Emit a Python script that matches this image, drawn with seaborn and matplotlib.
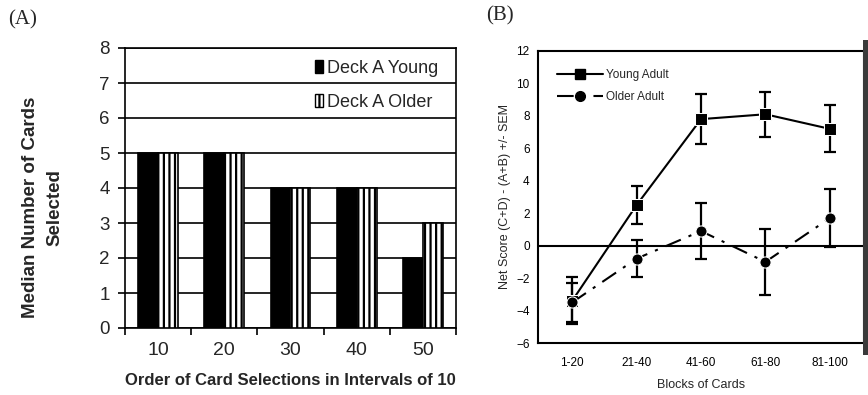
import numpy as np
import pandas as pd
import matplotlib
matplotlib.use("Agg")
import matplotlib.pyplot as plt
import seaborn as sns
from matplotlib.patches import Patch, Rectangle
from matplotlib.lines import Line2D

# ---- data: panel A ----
intervals = ["10", "20", "30", "40", "50"]
young_median = [5, 5, 4, 4, 2]
older_median = [5, 5, 4, 4, 3]
groups_a = ["Deck A Young", "Deck A Older"]

# ---- data: panel B ----
blocks = ["1-20", "21-40", "41-60", "61-80", "81-100"]
young_net = [-3.4, 2.5, 7.8, 8.1, 7.2]
young_sem = [1.45, 1.15, 1.55, 1.4, 1.45]
older_net = [-3.5, -0.8, 0.9, -1.0, 1.7]
older_sem = [1.2, 1.15, 1.75, 2.05, 1.8]
groups_b = ["Young Adult", "Older Adult"]

sns.set_theme(style="white")
plt.rcParams["font.family"] = ["Liberation Sans", "DejaVu Sans"]
plt.rcParams["hatch.linewidth"] = 1.6
plt.rcParams["hatch.color"] = "black"

fig = plt.figure(figsize=(8.68, 3.95), dpi=100)
axA = fig.add_axes([125/868, 1-328/395, 331/868, 280/395])
axB = fig.add_axes([538/868, 1-343/395, 326/868, 292/395])

# ---------- Panel A ----------
dfA = pd.DataFrame({
    "interval": intervals * 2,
    "median": young_median + older_median,
    "group": [groups_a[0]] * len(intervals) + [groups_a[1]] * len(intervals),
})
sns.barplot(data=dfA, x="interval", y="median", hue="group", order=intervals,
            hue_order=groups_a, palette=["black", "white"], width=0.6,
            edgecolor="black", linewidth=1.2, ax=axA, legend=False, zorder=3)
n = len(intervals)
for i, p in enumerate(axA.patches[:2 * n]):
    if i >= n:
        p.set_hatch("|||")
axA.set_ylim(0, 8)
axA.set_xlim(-0.5, n - 0.5)
axA.set_yticks(range(0, 9))
axA.yaxis.grid(True, color="black", linewidth=1.2, zorder=0)
axA.set_axisbelow(True)
for s in axA.spines.values():
    s.set_color("black")
    s.set_linewidth(1.2)
axA.set_xticks(np.arange(-0.5, n, 1.0), minor=True)
axA.tick_params(axis="x", which="minor", length=5, width=1.2, color="black", direction="out", bottom=True)
axA.tick_params(axis="x", which="major", length=0, labelsize=14, pad=10)
axA.tick_params(axis="y", which="major", length=5, width=1.2, color="black", direction="out", left=True, labelsize=13.5, pad=6)
axA.set_xlabel("Order of Card Selections in Intervals of 10", fontsize=12, fontweight="bold", labelpad=10)
axA.set_ylabel("Median Number of Cards\nSelected", fontsize=13.5, fontweight="bold",
               linespacing=1.6, va="center")
axA.yaxis.set_label_coords(-0.248, 0.43)
handlesA = [Patch(facecolor="black", edgecolor="black", label=groups_a[0]),
            Patch(facecolor="white", edgecolor="black", hatch="|||", label=groups_a[1])]
legA = axA.legend(handles=handlesA, loc="upper right", bbox_to_anchor=(0.982, 1.0), frameon=False,
                  fontsize=13, handlelength=0.45, handleheight=0.7, handletextpad=0.2,
                  labelspacing=0.95, borderaxespad=0.25)

# ---------- Panel B ----------
dfB = pd.DataFrame({
    "block": blocks * 2,
    "score": young_net + older_net,
    "sem": young_sem + older_sem,
    "group": [groups_b[0]] * len(blocks) + [groups_b[1]] * len(blocks),
})
xpos = np.arange(len(blocks))
dfB["x"] = np.tile(xpos, 2)
axB.axhline(0, color="black", linewidth=1.5, zorder=1)
sns.lineplot(data=dfB, x="x", y="score", hue="group", style="group",
             hue_order=groups_b, style_order=groups_b,
             palette=["black", "black"], markers={groups_b[0]: "s", groups_b[1]: "o"},
             dashes={groups_b[0]: "", groups_b[1]: (8, 4, 1.5, 4)},
             markersize=8, linewidth=1.5, ax=axB, legend=False, zorder=3)
for g in groups_b:
    sub = dfB[dfB.group == g]
    axB.errorbar(sub["x"], sub["score"], yerr=sub["sem"], fmt="none",
                 ecolor="black", elinewidth=1.6, capsize=4, capthick=1.6, zorder=2)
axB.set_xlim(-0.53, len(blocks) - 0.47)
axB.set_ylim(-6, 12)
axB.set_yticks(range(-6, 13, 2))
axB.set_xticks(xpos)
axB.set_xticklabels(blocks)
for s in axB.spines.values():
    s.set_color("black")
    s.set_linewidth(1.5)
axB.tick_params(axis="both", length=0, labelsize=8.5, colors="black")
axB.tick_params(axis="y", pad=6)
axB.tick_params(axis="x", pad=10)
axB.set_xlabel("Blocks of Cards", fontsize=9, labelpad=7)
axB.set_ylabel("Net Score (C+D) - (A+B) +/- SEM", fontsize=9, labelpad=4)
handlesB = [Line2D([], [], color="black", marker="s", markersize=7, linewidth=1.5, label=groups_b[0]),
            Line2D([], [], color="black", marker="o", markersize=7, linewidth=1.5,
                   dashes=(8, 4, 1.5, 4), label=groups_b[1])]
axB.legend(handles=handlesB, loc="upper left", bbox_to_anchor=(0.025, 0.975), frameon=False,
           fontsize=8.5, handlelength=3.9, handletextpad=0.25, labelspacing=0.85)

# panel labels
fig.text(8/868, 1-20/395, "(A)", fontsize=15, family=["Liberation Serif", "DejaVu Serif"], va="center", ha="left")
fig.text(486/868, 1-16/395, "(B)", fontsize=15, family=["Liberation Serif", "DejaVu Serif"], va="center", ha="left")

# dark scan edge at right of figure
fig.add_artist(Rectangle((863/868, 40/395), 5/868, 1 - 80/395, transform=fig.transFigure,
                         facecolor="#3a3a3a", edgecolor="none"))

fig.savefig("out.png", dpi=100, facecolor="white")
